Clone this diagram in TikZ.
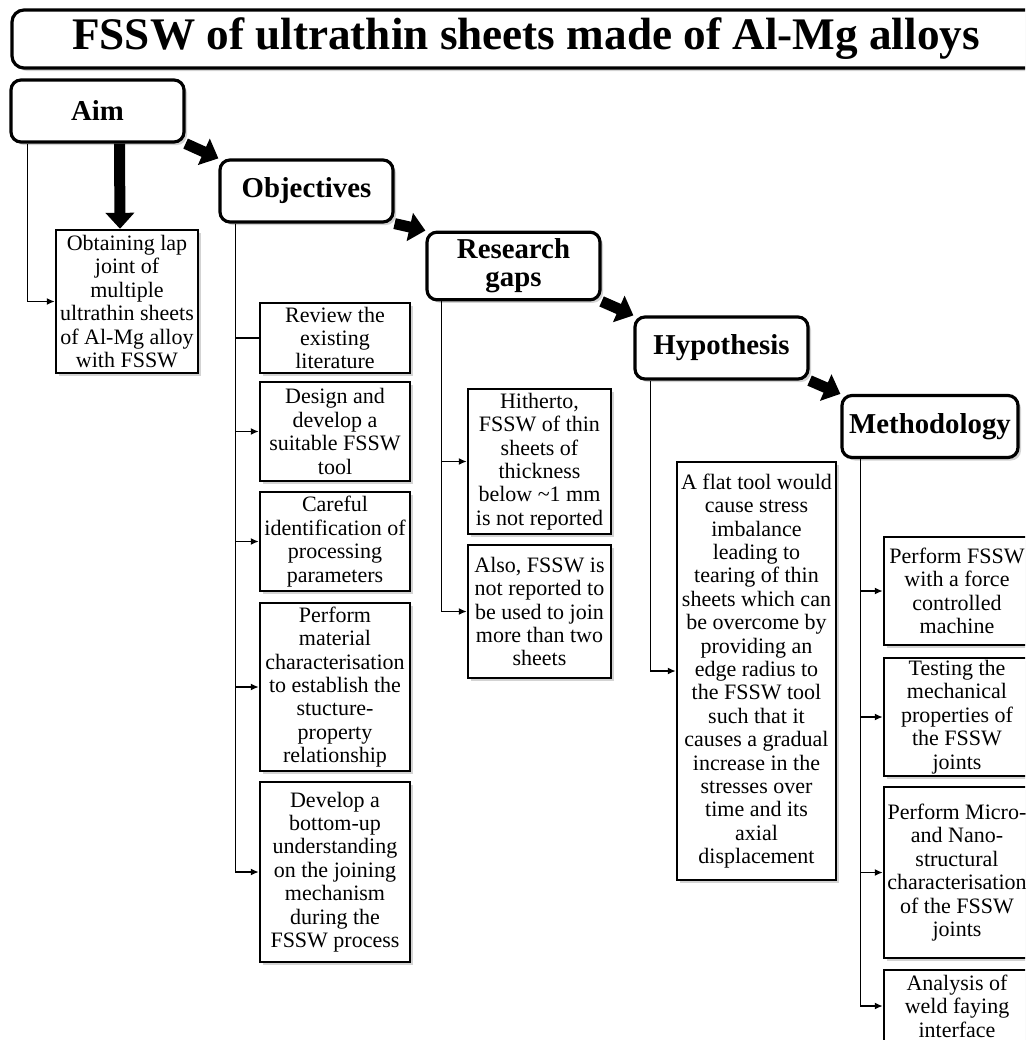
\documentclass[tikz,border=0pt]{standalone}
\usepackage{fontspec}
\setmainfont{Liberation Serif}
\usetikzlibrary{arrows.meta,shadows}

\begin{document}
\begin{tikzpicture}[
x=0.5pt, y=-0.5pt,
shade/.style={
drop shadow={opacity=0.35, shadow xshift=1.5pt, shadow yshift=-1.5pt}
},
titlebox/.style={
draw, line width=1.6pt, rounded corners=6pt, fill=white, shade,
minimum width=514pt, minimum height=29pt,
font=\fontsize{22.6}{24}\selectfont\bfseries
},
headbox/.style={
draw, line width=1.6pt, rounded corners=5pt, fill=white, shade,
align=center, minimum width=86.5pt, minimum height=31pt,
font=\fontsize{14.4}{14}\selectfont\bfseries
},
textbox/.style={
draw, line width=1.2pt, fill=white, shade,
align=center, inner xsep=1pt, inner ysep=1pt,
minimum width=75pt,
font=\fontsize{11}{11.7}\selectfont
},
bigarrow/.style={
line width=5.5pt, -{Triangle[width=14pt,length=8pt]}
},
link/.style={
line width=0.9pt, -{Latex[length=4pt,width=3.5pt]}
}
]

\useasboundingbox (0,0) rectangle (1025,1040);
\clip (0,0) rectangle (1025,1040);

% title
\node[titlebox] (T) at (526,39)
{FSSW of ultrathin sheets made of Al-Mg alloys};

% steps
\node[headbox] (A) at (97.5,111)
{Aim};

\node[headbox] (O) at (306.5,191)
{Objectives};

\node[headbox] (R) at (513.5,266)
{Research\\gaps};

\node[headbox] (H) at (721.5,348)
{Hypothesis};

\node[headbox, minimum width=88pt] (M) at (930,426.5)
{Methodology};

% aim
\node[textbox, minimum width=71pt, minimum height=71.5pt] (A1) at (127,301.5)
{Obtaining lap\\joint of\\multiple\\ultrathin sheets\\of Al-Mg alloy\\with FSSW};

% objectives
\node[textbox, minimum height=35pt] (O1) at (335,338)
{Review the\\existing\\literature};

\node[textbox, minimum height=49.5pt] (O2) at (335,431.5)
{Design and\\develop a\\suitable FSSW\\tool};

\node[textbox, minimum height=49.5pt] (O3) at (335,541.5)
{Careful\\identification of\\processing\\parameters};

\node[textbox, minimum height=84pt] (O4) at (335,687)
{Perform\\material\\characterisation\\to establish the\\stucture-\\property\\relationship};

\node[textbox, minimum height=90pt] (O5) at (335,872)
{Develop a\\bottom-up\\understanding\\on the joining\\mechanism\\during the\\FSSW process};

% research gaps
\node[textbox, minimum width=71.5pt, minimum height=72.5pt] (R1) at (539.5,461.5)
{Hitherto,\\FSSW of thin\\sheets of\\thickness\\below \textasciitilde1 mm\\is not reported};

\node[textbox, minimum width=71.5pt, minimum height=66.5pt] (R2) at (539.5,611.5)
{Also, FSSW is\\not reported to\\be used to join\\more than two\\sheets};

% hypothesis
\node[textbox, minimum width=79.5pt, minimum height=209pt] (H1) at (756.5,671)
{A flat tool would\\cause stress\\imbalance\\leading to\\tearing of thin\\sheets which can\\be overcome by\\providing an\\edge radius to\\the FSSW tool\\such that it\\causes a gradual\\increase in the\\stresses over\\time and its\\axial\\displacement};

% methodology
\node[textbox, minimum width=73pt, minimum height=54pt] (M1) at (957,591)
{Perform FSSW\\with a force\\controlled\\machine};

\node[textbox, minimum width=73pt, minimum height=59pt] (M2) at (957,717)
{Testing the\\mechanical\\properties of\\the FSSW\\joints};

\node[textbox, minimum width=73pt, minimum height=85.5pt] (M3) at (957,872.5)
{Perform Micro-\\and Nano-\\structural\\characterisation\\of the FSSW\\joints};

\node[textbox, minimum width=73pt, minimum height=36pt] (M4) at (957,1006)
{Analysis of\\weld faying\\interface};

% main flow
\draw[bigarrow] (A.south east) -- (O.north west);
\draw[bigarrow] (O.south east) -- (R.north west);
\draw[bigarrow] (R.south east) -- (H.north west);
\draw[bigarrow] (H.south east) -- (M.north west);
\draw[bigarrow] ([xshift=11pt]A.south) -- ([xshift=-3.5pt]A1.north);

% branches
\draw[link] ([xshift=9pt]A.south west) |- (A1.west);

\draw[line width=0.9pt] ([xshift=8.5pt]O.south west) |- (O1.west);
\draw[link] ([xshift=8.5pt]O.south west) |- (O2.west);
\draw[link] ([xshift=8.5pt]O.south west) |- (O3.west);
\draw[link] ([xshift=8.5pt]O.south west) |- (O4.west);
\draw[link] ([xshift=8.5pt]O.south west) |- (O5.west);

\draw[link] ([xshift=8pt]R.south west) |- (R1.west);
\draw[link] ([xshift=8pt]R.south west) |- (R2.west);

\draw[link] ([xshift=8.5pt]H.south west) |- (H1.west);

\draw[link] ([xshift=10pt]M.south west) |- (M1.west);
\draw[link] ([xshift=10pt]M.south west) |- (M2.west);
\draw[link] ([xshift=10pt]M.south west) |- (M3.west);
\draw[link] ([xshift=10pt]M.south west) |- (M4.west);

\end{tikzpicture}
\end{document}
